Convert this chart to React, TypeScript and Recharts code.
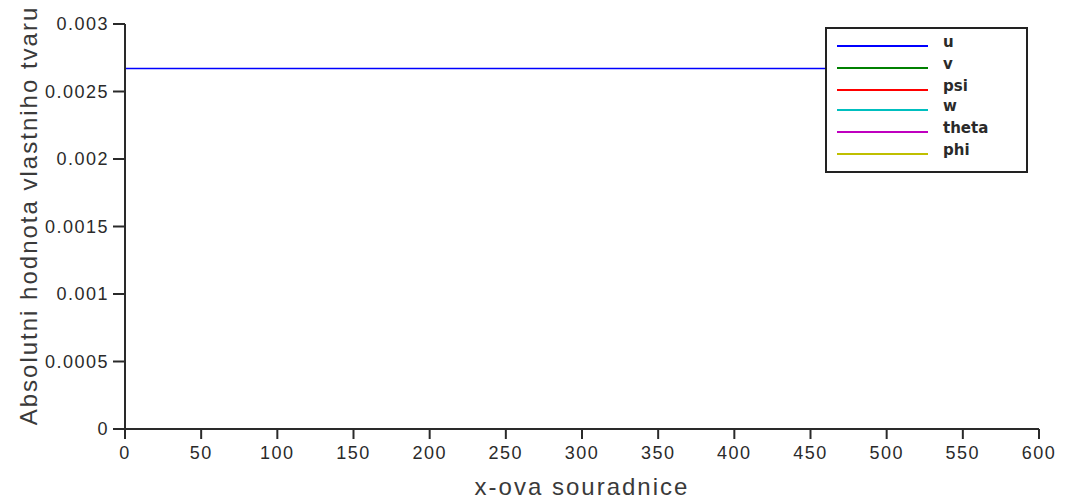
import React from "react";
import {
  LineChart,
  Line,
  XAxis,
  YAxis,
} from "recharts";

// x coordinates along the beam
const xPositions = [0, 600];

// absolute mode-shape values per component (only u is non-zero)
const uValues = [0.00267, 0.00267];
const vValues: (number | null)[] = [null, null];
const psiValues: (number | null)[] = [null, null];
const wValues: (number | null)[] = [null, null];
const thetaValues: (number | null)[] = [null, null];
const phiValues: (number | null)[] = [null, null];

const xTicks = [0, 50, 100, 150, 200, 250, 300, 350, 400, 450, 500, 550, 600];
const yTicks = [0, 0.0005, 0.001, 0.0015, 0.002, 0.0025, 0.003];

const series = [
  { key: "u", values: uValues, color: "#0000ff" },
  { key: "v", values: vValues, color: "#008000" },
  { key: "psi", values: psiValues, color: "#ff0000" },
  { key: "w", values: wValues, color: "#00bfbf" },
  { key: "theta", values: thetaValues, color: "#bf00bf" },
  { key: "phi", values: phiValues, color: "#bfbf00" },
];

const data = xPositions.map((x, i) => {
  const row: Record<string, number | null> = { x };
  series.forEach((s) => {
    row[s.key] = s.values[i];
  });
  return row;
});

const AXIS = "#2a2a2a";
const FONT = "Liberation Sans, Arial, sans-serif";
const tickFont = { fontFamily: FONT, fontSize: 18, fill: "#2a2a2a", letterSpacing: 1.5 };
const labelStyle = { fontFamily: FONT, fontSize: 24, fill: "#3a3a3a", letterSpacing: 2 };

// legend rows: line y positions
const legendRows = [46, 68, 90, 110, 132, 154];

const LegendBox = () => (
  <svg
    width={222}
    height={150}
    style={{ position: "absolute", left: 820, top: 24 }}
  >
    {/* white backing that hides the curve under the legend */}
    <rect x={5} y={3} width={214} height={146} fill="#fff" />
    <rect x={6} y={4} width={201} height={144} fill="#fff" stroke="#222" strokeWidth={2} />
    {series.map((s, i) => {
      const y = legendRows[i] - 24;
      return (
        <g key={s.key}>
          <line x1={17} x2={108} y1={y} y2={y} stroke={s.color} strokeWidth={2} />
          <text
            x={123}
            y={y + 1}
            fontFamily="DejaVu Sans, sans-serif"
            fontWeight="bold"
            fontSize={15}
            fill="#2a2a2a"
          >
            {s.key}
          </text>
        </g>
      );
    })}
  </svg>
);

const YLabel = (props: any) => {
  const { viewBox } = props;
  const cy = viewBox.y + viewBox.height / 2 - 11;
  return (
    <text
      x={28}
      y={cy}
      transform={`rotate(-90, 28, ${cy})`}
      textAnchor="middle"
      dominantBaseline="central"
      style={labelStyle}
    >
      Absolutni hodnota vlastniho tvaru
    </text>
  );
};

const XLabel = (props: any) => {
  const { viewBox } = props;
  const cx = viewBox.x + viewBox.width / 2;
  return (
    <text x={cx} y={495} textAnchor="middle" style={labelStyle}>
      x-ova souradnice
    </text>
  );
};

export default function App() {
  return (
    <div style={{ position: "absolute", left: 0, top: 0, width: 1065, height: 499, background: "#fff" }}>
      <LineChart
        width={1065}
        height={499}
        data={data}
        margin={{ top: 24, right: 26, left: 0, bottom: 0 }}
      >
        <XAxis
          dataKey="x"
          type="number"
          domain={[0, 600]}
          ticks={xTicks}
          interval={0}
          height={70}
          stroke={AXIS}
          strokeWidth={2}
          tickSize={10}
          tickMargin={7}
          fontSize={18}
          tick={tickFont}
          label={<XLabel />}
        />
        <XAxis
          xAxisId="top"
          dataKey="x"
          type="number"
          domain={[0, 600]}
          orientation="top"
          height={0}
          tick={false}
          tickLine={false}
          stroke={AXIS}
          strokeWidth={2}
        />
        <YAxis
          type="number"
          domain={[0, 0.003]}
          ticks={yTicks}
          interval={0}
          width={125}
          stroke={AXIS}
          strokeWidth={2}
          tickSize={12}
          tickMargin={4}
          fontSize={18}
          tick={tickFont}
          tickFormatter={(v: number) => String(v)}
          label={<YLabel />}
        />
        <YAxis
          yAxisId="right"
          orientation="right"
          domain={[0, 0.003]}
          width={0}
          tick={false}
          tickLine={false}
          stroke={AXIS}
          strokeWidth={2}
        />
        {series.map((s) => (
          <Line
            key={s.key}
            dataKey={s.key}
            stroke={s.color}
            strokeWidth={1.5}
            dot={false}
            isAnimationActive={false}
            connectNulls={false}
          />
        ))}
      </LineChart>
      <LegendBox />
    </div>
  );
}
